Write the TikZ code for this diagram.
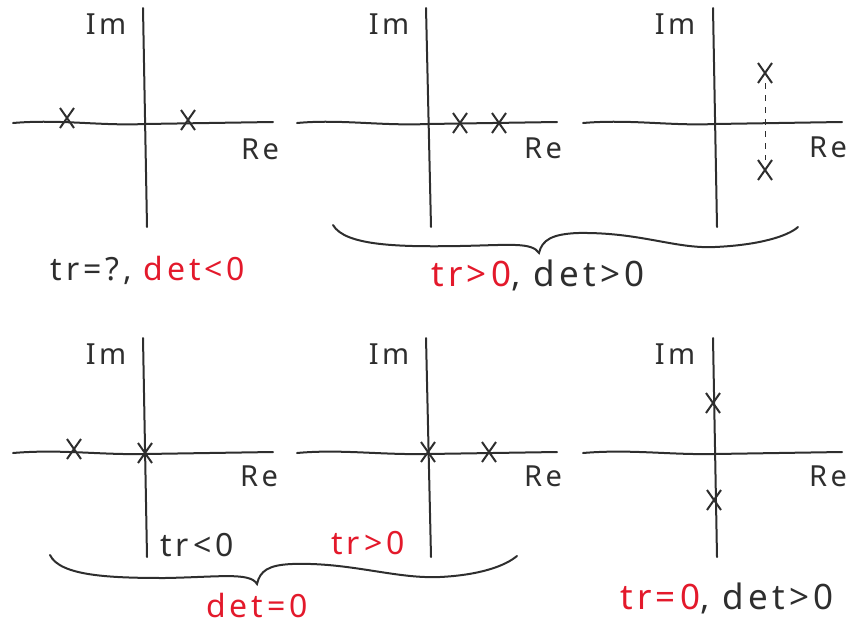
\documentclass[tikz,border=0pt]{standalone}
\usepackage{fontspec}
\setmainfont{Noto Sans}
\newfontfamily\hand[LetterSpace=12]{Noto Sans}
\usetikzlibrary{shapes.misc}
\definecolor{ink}{HTML}{2E2E2E}
\definecolor{redink}{HTML}{E3192B}
\begin{document}
\begin{tikzpicture}[x=1pt,y=-1pt,
  axis/.style={draw=ink, line width=2pt, line cap=round},
  xmark/.style={cross out, draw=ink, line width=2pt, minimum width=12pt, minimum height=18pt, inner sep=0pt},
  axlbl/.style={text=ink, font=\hand\fontsize{29}{34}\selectfont, inner sep=0pt},
  lbl/.style={text=ink, font=\hand\fontsize{32}{38}\selectfont, inner sep=0pt},
  biglbl/.style={text=ink, font=\hand\fontsize{35}{40}\selectfont, inner sep=0pt},
  redlbl/.style={lbl, text=redink},
  bracepath/.style={draw=ink, line width=2pt, line cap=round}
]
\useasboundingbox (0,0) rectangle (859,627);

% ---------- Panel 1 ----------
\coordinate (h1a) at (13,123); \coordinate (h1b) at (273,122);
\coordinate (v1a) at (143,8);  \coordinate (v1b) at (147,227);
\draw[axis] (h1a) .. controls (60,119) and (100,126) .. (145,124) -- (h1b);
\draw[axis] (v1a) -- (v1b);
\node[axlbl] (im1) at (106,24) {Im};
\node[axlbl] (re1) at (260,149) {Re};
\node[xmark] (p1a) at (67,118) {};
\node[xmark] (p1b) at (188,120) {};

% ---------- Panel 2 ----------
\coordinate (h2a) at (297,123); \coordinate (h2b) at (557,122);
\coordinate (v2a) at (426,8);  \coordinate (v2b) at (431,227);
\draw[axis] (h2a) .. controls (340,119) and (380,126) .. (428,124) -- (h2b);
\draw[axis] (v2a) -- (v2b);
\node[axlbl] (im2) at (389,24) {Im};
\node[axlbl] (re2) at (543,148) {Re};
\node[xmark] (p2a) at (460,123) {};
\node[xmark] (p2b) at (499,123) {};

% ---------- Panel 3 ----------
\coordinate (h3a) at (583,123); \coordinate (h3b) at (842,122);
\coordinate (v3a) at (713,8);  \coordinate (v3b) at (717,227);
\draw[axis] (h3a) .. controls (630,119) and (670,126) .. (715,124) -- (h3b);
\draw[axis] (v3a) -- (v3b);
\node[axlbl] (im3) at (675,24) {Im};
\node[axlbl] (re3) at (828,147) {Re};
\node[xmark] (p3a) at (765,73) {};
\node[xmark] (p3b) at (765,170) {};
\draw[draw=ink, line width=1pt, dash pattern=on 6pt off 6pt] (p3a.south) -- (p3b.north);

% ---------- Panel 4 ----------
\coordinate (h4a) at (13,453); \coordinate (h4b) at (273,452);
\coordinate (v4a) at (143,338); \coordinate (v4b) at (147,557);
\draw[axis] (h4a) .. controls (60,449) and (100,455) .. (145,454) -- (h4b);
\draw[axis] (v4a) -- (v4b);
\node[axlbl] (im4) at (106,354) {Im};
\node[axlbl] (re4) at (259,476) {Re};
\node[xmark] (p4a) at (74,449) {};
\node[xmark] (p4b) at (145,453) {};

% ---------- Panel 5 ----------
\coordinate (h5a) at (297,453); \coordinate (h5b) at (557,452);
\coordinate (v5a) at (426,338); \coordinate (v5b) at (431,557);
\draw[axis] (h5a) .. controls (340,449) and (380,455) .. (428,454) -- (h5b);
\draw[axis] (v5a) -- (v5b);
\node[axlbl] (im5) at (389,354) {Im};
\node[axlbl] (re5) at (543,476) {Re};
\node[xmark] (p5a) at (428,452) {};
\node[xmark] (p5b) at (489,452) {};

% ---------- Panel 6 ----------
\coordinate (h6a) at (583,453); \coordinate (h6b) at (842,452);
\coordinate (v6a) at (713,338); \coordinate (v6b) at (717,557);
\draw[axis] (h6a) .. controls (630,449) and (670,455) .. (715,454) -- (h6b);
\draw[axis] (v6a) -- (v6b);
\node[axlbl] (im6) at (675,354) {Im};
\node[axlbl] (re6) at (828,476) {Re};
\node[xmark] (p6a) at (713,403) {};
\node[xmark] (p6b) at (714,500) {};

% ---------- Braces ----------
\coordinate (b1l) at (333,225); \coordinate (b1t) at (539,253); \coordinate (b1r) at (798,227);
\draw[bracepath] (b1l) .. controls (345,246) and (400,247) .. (460,246)
  .. controls (510,245) and (532,242) .. (b1t)
  .. controls (542,240) and (552,234) .. (578,233)
  .. controls (640,232) and (675,249) .. (715,247)
  .. controls (760,245) and (788,236) .. (b1r);

\coordinate (b2l) at (50,555); \coordinate (b2t) at (257,584); \coordinate (b2r) at (517,556);
\draw[bracepath] (b2l) .. controls (60,576) and (110,578) .. (165,578)
  .. controls (220,577) and (250,572) .. (b2t)
  .. controls (260,571) and (268,565) .. (292,564)
  .. controls (350,562) and (395,579) .. (440,577)
  .. controls (480,575) and (505,566) .. (b2r);

% ---------- Labels ----------
\node[lbl] (c1) at (148,270) {tr=?, \textcolor{redink}{det<0}};
\node[biglbl] (c2) at (538,275) {\textcolor{redink}{tr>0}, det>0};
\node[lbl] (c4) at (197,545) {tr<0};
\node[redlbl] (c5) at (368,543) {tr>0};
\node[redlbl] (c7) at (257,605) {det=0};
\node[biglbl] (c6) at (727,598) {\textcolor{redink}{tr=0}, det>0};
\end{tikzpicture}
\end{document}
